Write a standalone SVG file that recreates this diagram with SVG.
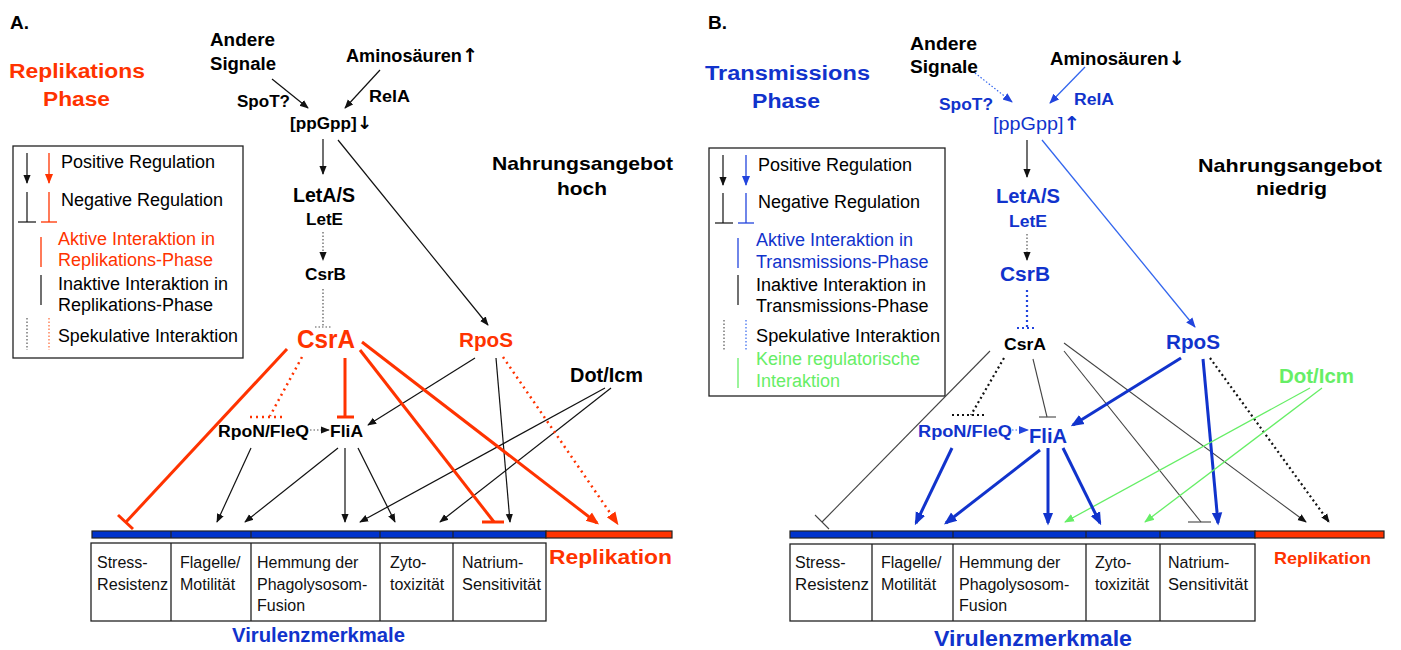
<svg xmlns="http://www.w3.org/2000/svg" width="1401" height="650" viewBox="0 0 1401 650">
<style>
text{font-family:"Liberation Sans",Arial,sans-serif}
.b{font-weight:bold}
.lg{font-size:18px}
.bx{font-size:16px;fill:#111}
.red{fill:#ff3300}
.blu{fill:#1133cc}
.grn{fill:#66ee66}
.arw{font-family:"DejaVu Sans",sans-serif;font-weight:bold}
.k{stroke:#111;stroke-width:1.2;fill:none}
.kd{stroke:#555;stroke-width:1.2;stroke-dasharray:1.5,2;fill:none}
.kdt{stroke:#111;stroke-width:2.2;stroke-dasharray:2,3;fill:none}
.gr{stroke:#444;stroke-width:1.1;fill:none}
.r{stroke:#ff3300;stroke-width:3;fill:none}
.rd{stroke:#ff3300;stroke-width:2.5;stroke-dasharray:2,4;fill:none}
.rt{stroke:#ff3300;stroke-width:1.3;fill:none}
.rdt{stroke:#ff6633;stroke-width:1.2;stroke-dasharray:1.5,2;fill:none}
.bl{stroke:#1133cc;stroke-width:3;fill:none}
.blt{stroke:#2244dd;stroke-width:1.3;fill:none}
.bll{stroke:#3366ee;stroke-width:1.3;fill:none}
.bld{stroke:#3366ee;stroke-width:1.2;stroke-dasharray:1.5,2;fill:none}
.bldt{stroke:#2244dd;stroke-width:2.2;stroke-dasharray:2,3;fill:none}
.g{stroke:#66ee66;stroke-width:1.3;fill:none}
.box{fill:#fff;stroke:#222;stroke-width:1.3}
</style>
<defs>
<marker id="ak" markerUnits="userSpaceOnUse" viewBox="0 0 10 10" refX="9" refY="5" markerWidth="9" markerHeight="9" orient="auto"><path d="M0,1 L10,5 L0,9 z" fill="#111"/></marker>
<marker id="ar" markerUnits="userSpaceOnUse" viewBox="0 0 10 10" refX="8" refY="5" markerWidth="13" markerHeight="13" orient="auto"><path d="M0,1 L10,5 L0,9 z" fill="#ff3300"/></marker>
<marker id="arl" markerUnits="userSpaceOnUse" viewBox="0 0 10 10" refX="9" refY="5" markerWidth="10" markerHeight="10" orient="auto"><path d="M0,1 L10,5 L0,9 z" fill="#ff3300"/></marker>
<marker id="ab" markerUnits="userSpaceOnUse" viewBox="0 0 10 10" refX="8" refY="5" markerWidth="13" markerHeight="13" orient="auto"><path d="M0,1 L10,5 L0,9 z" fill="#1133cc"/></marker>
<marker id="abl" markerUnits="userSpaceOnUse" viewBox="0 0 10 10" refX="9" refY="5" markerWidth="10" markerHeight="10" orient="auto"><path d="M0,1 L10,5 L0,9 z" fill="#2244dd"/></marker>
<marker id="ag" markerUnits="userSpaceOnUse" viewBox="0 0 10 10" refX="9" refY="5" markerWidth="10" markerHeight="10" orient="auto"><path d="M0,1 L10,5 L0,9 z" fill="#66ee66"/></marker>
</defs>
<rect width="1401" height="650" fill="#fff"/>

<!-- ================= PANEL A ================= -->
<g id="A-title">
<text x="10" y="29" class="b" font-size="19">A.</text>
<text x="9" y="78" class="b red" font-size="20" textLength="136" lengthAdjust="spacingAndGlyphs">Replikations</text>
<text x="43" y="106" class="b red" font-size="20" textLength="67" lengthAdjust="spacingAndGlyphs">Phase</text>
</g>
<g id="A-legend">
<rect x="13" y="146" width="230" height="212" class="box"/>
<line x1="27" y1="153" x2="27" y2="183" class="k" marker-end="url(#ak)"/>
<line x1="49" y1="153" x2="49" y2="183" class="rt" marker-end="url(#arl)"/>
<text x="61" y="168" class="lg">Positive Regulation</text>
<line x1="27" y1="192" x2="27" y2="222" class="k"/><line x1="18" y1="222" x2="36" y2="222" class="k"/>
<line x1="49" y1="192" x2="49" y2="222" class="rt"/><line x1="41" y1="222" x2="57" y2="222" class="rt"/>
<text x="61" y="206" class="lg">Negative Regulation</text>
<line x1="41" y1="237" x2="41" y2="267" class="rt"/>
<text x="58" y="245" class="lg red">Aktive Interaktion in</text>
<text x="58" y="266" class="lg red">Replikations-Phase</text>
<line x1="41" y1="275" x2="41" y2="305" class="k"/>
<text x="58" y="290" class="lg">Inaktive Interaktion in</text>
<text x="58" y="311" class="lg">Replikations-Phase</text>
<line x1="27" y1="318" x2="27" y2="350" class="kd"/>
<line x1="49" y1="318" x2="49" y2="350" class="rdt"/>
<text x="58" y="342" class="lg" textLength="180" lengthAdjust="spacingAndGlyphs">Spekulative Interaktion</text>
</g>
<g id="A-andere"><text x="210" y="46" class="b" font-size="18" textLength="65" lengthAdjust="spacingAndGlyphs">Andere</text><text x="210" y="70" class="b" font-size="18" textLength="66" lengthAdjust="spacingAndGlyphs">Signale</text></g>
<g id="A-amino"><text x="346" y="62" class="b" font-size="18" textLength="132" lengthAdjust="spacingAndGlyphs">Aminosäuren<tspan class="arw" font-size="19">↑</tspan></text></g>
<g id="A-spot"><text x="237" y="107" class="b" font-size="16" textLength="53" lengthAdjust="spacingAndGlyphs">SpoT?</text></g>
<g id="A-rela"><text x="369" y="102" class="b" font-size="16" textLength="41" lengthAdjust="spacingAndGlyphs">RelA</text></g>
<g id="A-ppgpp"><text x="290" y="129" class="b" font-size="17" textLength="82" lengthAdjust="spacingAndGlyphs">[ppGpp]<tspan class="arw" font-size="18">↓</tspan></text></g>
<g id="A-nahrung"><text x="492" y="170" class="b" font-size="19" textLength="181" lengthAdjust="spacingAndGlyphs">Nahrungsangebot</text><text x="557" y="195" class="b" font-size="19" textLength="50" lengthAdjust="spacingAndGlyphs">hoch</text></g>
<g id="A-letas"><text x="293" y="202" class="b" font-size="20" textLength="62" lengthAdjust="spacingAndGlyphs">LetA/S</text></g>
<g id="A-lete"><text x="306" y="225" class="b" font-size="16" textLength="37" lengthAdjust="spacingAndGlyphs">LetE</text></g>
<g id="A-csrb"><text x="305" y="280" class="b" font-size="16" textLength="41" lengthAdjust="spacingAndGlyphs">CsrB</text></g>
<g id="A-csra"><text x="297" y="348" class="b red" font-size="25" textLength="58" lengthAdjust="spacingAndGlyphs">CsrA</text></g>
<g id="A-rpos"><text x="459" y="347" class="b red" font-size="20" textLength="54" lengthAdjust="spacingAndGlyphs">RpoS</text></g>
<g id="A-doticm"><text x="570" y="382" class="b" font-size="20" textLength="73" lengthAdjust="spacingAndGlyphs">Dot/Icm</text></g>
<g id="A-rpon"><text x="218" y="437" class="b" font-size="16" textLength="91" lengthAdjust="spacingAndGlyphs">RpoN/FleQ</text></g>
<g id="A-flia"><text x="330" y="437" class="b" font-size="17" textLength="33" lengthAdjust="spacingAndGlyphs">FliA</text></g>
<g id="A-bar">
<rect x="92" y="531" width="454" height="7" fill="#0033cc" stroke="#222" stroke-width="1.2"/>
<rect x="546" y="531" width="126" height="7" fill="#ff3300" stroke="#222" stroke-width="1.2"/>
<path d="M171,531V538M251,531V538M380,531V538M453,531V538" stroke="#222" stroke-width="1.2"/>
</g>
<g id="A-traits">
<rect x="91" y="543" width="455" height="78" class="box"/>
<path d="M171,543V621M251,543V621M380,543V621M453,543V621" stroke="#222" stroke-width="1.3"/>
<text x="97" y="568" class="bx">Stress-</text><text x="97" y="590" class="bx" textLength="71" lengthAdjust="spacingAndGlyphs">Resistenz</text>
<text x="180" y="568" class="bx">Flagelle/</text><text x="180" y="590" class="bx">Motilität</text>
<text x="257" y="568" class="bx">Hemmung der</text><text x="257" y="590" class="bx">Phagolysosom-</text><text x="257" y="611" class="bx">Fusion</text>
<text x="390" y="568" class="bx">Zyto-</text><text x="390" y="590" class="bx">toxizität</text>
<text x="462" y="568" class="bx">Natrium-</text><text x="462" y="590" class="bx" textLength="79" lengthAdjust="spacingAndGlyphs">Sensitivität</text>
</g>
<g id="A-replikation"><text x="549" y="564" class="b red" font-size="21" textLength="123" lengthAdjust="spacingAndGlyphs">Replikation</text></g>
<g id="A-virulenz"><text x="232" y="642" class="b" fill="#1133cc" font-size="20" textLength="173" lengthAdjust="spacingAndGlyphs">Virulenzmerkmale</text></g>

<!-- ================= PANEL B ================= -->
<g id="B-title">
<text x="708" y="29" class="b" font-size="19">B.</text>
<text x="705" y="80" class="b blu" font-size="20" textLength="165" lengthAdjust="spacingAndGlyphs">Transmissions</text>
<text x="752" y="108" class="b blu" font-size="20" textLength="68" lengthAdjust="spacingAndGlyphs">Phase</text>
</g>
<g id="B-legend">
<rect x="709" y="148" width="236" height="248" class="box"/>
<line x1="723" y1="155" x2="723" y2="185" class="k" marker-end="url(#ak)"/>
<line x1="746" y1="155" x2="746" y2="185" class="blt" marker-end="url(#abl)"/>
<text x="758" y="171" class="lg">Positive Regulation</text>
<line x1="723" y1="193" x2="723" y2="223" class="k"/><line x1="715" y1="223" x2="733" y2="223" class="k"/>
<line x1="746" y1="193" x2="746" y2="223" class="blt"/><line x1="738" y1="223" x2="754" y2="223" class="blt"/>
<text x="758" y="208" class="lg">Negative Regulation</text>
<line x1="738" y1="238" x2="738" y2="268" class="blt"/>
<text x="756" y="246" class="lg blu">Aktive Interaktion in</text>
<text x="756" y="268" class="lg blu">Transmissions-Phase</text>
<line x1="738" y1="275" x2="738" y2="305" class="k"/>
<text x="756" y="291" class="lg">Inaktive Interaktion in</text>
<text x="756" y="312" class="lg">Transmissions-Phase</text>
<line x1="724" y1="320" x2="724" y2="350" class="kd"/>
<line x1="746" y1="320" x2="746" y2="350" class="bld"/>
<text x="756" y="342" class="lg" textLength="184" lengthAdjust="spacingAndGlyphs">Spekulative Interaktion</text>
<line x1="738" y1="358" x2="738" y2="388" class="g"/>
<text x="756" y="365" class="lg" fill="#66ee66">Keine regulatorische</text>
<text x="756" y="387" class="lg" fill="#66ee66">Interaktion</text>
</g>
<g id="B-andere"><text x="910" y="50" class="b" font-size="18" textLength="67" lengthAdjust="spacingAndGlyphs">Andere</text><text x="910" y="73" class="b" font-size="18" textLength="68" lengthAdjust="spacingAndGlyphs">Signale</text></g>
<g id="B-amino"><text x="1050" y="65" class="b" font-size="18" textLength="135" lengthAdjust="spacingAndGlyphs">Aminosäuren<tspan class="arw" font-size="19">↓</tspan></text></g>
<g id="B-spot"><text x="939" y="110" class="b blu" font-size="16" textLength="54" lengthAdjust="spacingAndGlyphs">SpoT?</text></g>
<g id="B-rela"><text x="1074" y="105" class="b blu" font-size="16" textLength="40" lengthAdjust="spacingAndGlyphs">RelA</text></g>
<g id="B-ppgpp"><text x="993" y="130" class="blu" font-size="19" textLength="87" lengthAdjust="spacingAndGlyphs">[ppGpp]<tspan class="arw" font-size="19">↑</tspan></text></g>
<g id="B-nahrung"><text x="1198" y="172" class="b" font-size="19" textLength="184" lengthAdjust="spacingAndGlyphs">Nahrungsangebot</text><text x="1256" y="195" class="b" font-size="19" textLength="71" lengthAdjust="spacingAndGlyphs">niedrig</text></g>
<g id="B-letas"><text x="996" y="203" class="b blu" font-size="20" textLength="64" lengthAdjust="spacingAndGlyphs">LetA/S</text></g>
<g id="B-lete"><text x="1009" y="227" class="b blu" font-size="17" textLength="38" lengthAdjust="spacingAndGlyphs">LetE</text></g>
<g id="B-csrb"><text x="1000" y="281" class="b blu" font-size="20" textLength="50" lengthAdjust="spacingAndGlyphs">CsrB</text></g>
<g id="B-csra"><text x="1004" y="350" class="b" font-size="16" textLength="42" lengthAdjust="spacingAndGlyphs">CsrA</text></g>
<g id="B-rpos"><text x="1166" y="349" class="b blu" font-size="20" textLength="54" lengthAdjust="spacingAndGlyphs">RpoS</text></g>
<g id="B-doticm"><text x="1279" y="383" class="b grn" font-size="20" textLength="75" lengthAdjust="spacingAndGlyphs">Dot/Icm</text></g>
<g id="B-rpon"><text x="918" y="437" class="b blu" font-size="16" textLength="94" lengthAdjust="spacingAndGlyphs">RpoN/FleQ</text></g>
<g id="B-flia"><text x="1029" y="443" class="b blu" font-size="21" textLength="38" lengthAdjust="spacingAndGlyphs">FliA</text></g>
<g id="B-bar">
<rect x="790" y="531" width="465" height="7" fill="#0033cc" stroke="#222" stroke-width="1.2"/>
<rect x="1255" y="531" width="129" height="7" fill="#ff3300" stroke="#222" stroke-width="1.2"/>
<path d="M872,531V538M953,531V538M1086,531V538M1160,531V538" stroke="#222" stroke-width="1.2"/>
</g>
<g id="B-traits">
<rect x="790" y="544" width="465" height="77" class="box"/>
<path d="M872,544V621M953,544V621M1086,544V621M1160,544V621" stroke="#222" stroke-width="1.3"/>
<text x="795" y="568" class="bx">Stress-</text><text x="795" y="590" class="bx" textLength="74" lengthAdjust="spacingAndGlyphs">Resistenz</text>
<text x="881" y="568" class="bx">Flagelle/</text><text x="881" y="590" class="bx">Motilität</text>
<text x="959" y="568" class="bx">Hemmung der</text><text x="959" y="590" class="bx">Phagolysosom-</text><text x="959" y="611" class="bx">Fusion</text>
<text x="1095" y="568" class="bx">Zyto-</text><text x="1095" y="590" class="bx">toxizität</text>
<text x="1168" y="568" class="bx">Natrium-</text><text x="1168" y="590" class="bx" textLength="80" lengthAdjust="spacingAndGlyphs">Sensitivität</text>
</g>
<g id="B-replikation"><text x="1274" y="564" class="b red" font-size="17" textLength="97" lengthAdjust="spacingAndGlyphs">Replikation</text></g>
<g id="B-virulenz"><text x="934" y="646" class="b" fill="#1133cc" font-size="22" textLength="198" lengthAdjust="spacingAndGlyphs">Virulenzmerkmale</text></g>

<!-- ================= CONNECTORS ================= -->
<g id="connectors">
<!-- Panel A -->
<line x1="272" y1="79" x2="308" y2="108" class="k" marker-end="url(#ak)"/>
<line x1="380" y1="70" x2="345" y2="108" class="k" marker-end="url(#ak)"/>
<line x1="323" y1="139" x2="323" y2="174" class="k" marker-end="url(#ak)"/>
<line x1="323" y1="232" x2="323" y2="260" class="kd" marker-end="url(#ak)"/>
<line x1="323" y1="289" x2="323" y2="327" class="kd"/><line x1="315" y1="327" x2="331" y2="327" class="kd"/>
<line x1="338" y1="140" x2="488" y2="325" class="k" marker-end="url(#ak)"/>
<line x1="475" y1="358" x2="368" y2="425" class="k" marker-end="url(#ak)"/>
<line x1="496" y1="358" x2="510" y2="522" class="k" marker-end="url(#ak)"/>
<line x1="605" y1="388" x2="360" y2="522" class="k" marker-end="url(#ak)"/>
<line x1="611" y1="388" x2="440" y2="522" class="k" marker-end="url(#ak)"/>
<line x1="251" y1="448" x2="217" y2="522" class="k" marker-end="url(#ak)"/>
<line x1="338" y1="448" x2="245" y2="522" class="k" marker-end="url(#ak)"/>
<line x1="345" y1="448" x2="345" y2="522" class="k" marker-end="url(#ak)"/>
<line x1="358" y1="448" x2="395" y2="522" class="k" marker-end="url(#ak)"/>
<line x1="310" y1="430" x2="329" y2="430" class="kd" marker-end="url(#ak)"/>
<line x1="287" y1="349" x2="126" y2="522" class="r"/><line x1="118" y1="515" x2="133" y2="529" class="r"/>
<line x1="302" y1="357" x2="270" y2="416" class="rd"/><line x1="250" y1="417" x2="282" y2="417" class="rd"/>
<line x1="345" y1="358" x2="345" y2="417" class="r"/><line x1="337" y1="417" x2="354" y2="417" class="r"/>
<line x1="360" y1="350" x2="494" y2="522" class="r"/><line x1="482" y1="522" x2="504" y2="522" class="r"/>
<line x1="362" y1="342" x2="597" y2="523" class="r" marker-end="url(#ar)"/>
<line x1="503" y1="357" x2="617" y2="523" class="rd" marker-end="url(#ar)"/>
<!-- Panel B -->
<line x1="975" y1="73" x2="1012" y2="102" class="bld" marker-end="url(#abl)"/>
<line x1="1085" y1="67" x2="1050" y2="103" class="bll" marker-end="url(#abl)"/>
<line x1="1027" y1="140" x2="1027" y2="177" class="k" marker-end="url(#ak)"/>
<line x1="1027" y1="234" x2="1027" y2="260" class="kd" marker-end="url(#ak)"/>
<line x1="1027" y1="290" x2="1027" y2="327" class="bldt"/><line x1="1017" y1="328" x2="1034" y2="328" class="bldt"/>
<line x1="1042" y1="140" x2="1195" y2="327" class="bll" marker-end="url(#abl)"/>
<line x1="990" y1="351" x2="822" y2="522" class="gr"/><line x1="815" y1="515" x2="829" y2="529" class="gr"/>
<line x1="1004" y1="358" x2="971" y2="415" class="kdt"/><line x1="952" y1="415" x2="984" y2="415" class="kdt"/>
<line x1="1033" y1="359" x2="1047" y2="417" class="gr"/><line x1="1039" y1="417" x2="1056" y2="417" class="gr"/>
<line x1="1064" y1="351" x2="1201" y2="522" class="gr"/><line x1="1188" y1="522" x2="1211" y2="522" class="gr"/>
<line x1="1064" y1="343" x2="1306" y2="522" class="gr" marker-end="url(#ak)"/>
<line x1="1210" y1="358" x2="1329" y2="522" class="kdt" marker-end="url(#ak)"/>
<line x1="1181" y1="358" x2="1073" y2="425" class="bl" marker-end="url(#ab)"/>
<line x1="1203" y1="359" x2="1218" y2="523" class="bl" marker-end="url(#ab)"/>
<line x1="1310" y1="388" x2="1065" y2="522" class="g" marker-end="url(#ag)"/>
<line x1="1322" y1="388" x2="1145" y2="522" class="g" marker-end="url(#ag)"/>
<line x1="952" y1="448" x2="916" y2="523" class="bl" marker-end="url(#ab)"/>
<line x1="1040" y1="450" x2="946" y2="523" class="bl" marker-end="url(#ab)"/>
<line x1="1048" y1="448" x2="1048" y2="523" class="bl" marker-end="url(#ab)"/>
<line x1="1063" y1="448" x2="1100" y2="523" class="bl" marker-end="url(#ab)"/>
<line x1="1012" y1="430" x2="1028" y2="430" class="bld" marker-end="url(#abl)"/>
</g>
</svg>
